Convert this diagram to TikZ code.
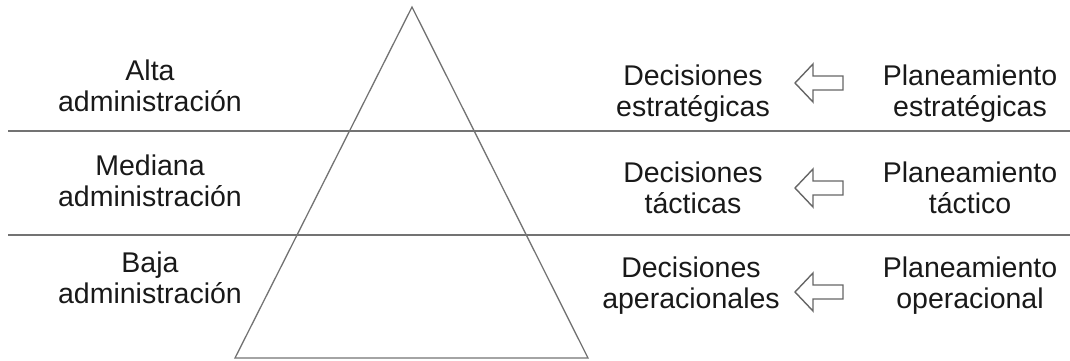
\documentclass[tikz,border=0pt]{standalone}
\usepackage{fontspec}
\setmainfont{Liberation Sans}
\begin{document}
\begin{tikzpicture}[x=1pt,y=-1pt,
  lbl/.style={align=center, anchor=base, inner sep=0pt,
    font=\fontsize{28.5}{31}\selectfont, text=black!90},
  rule/.style={draw=black!55, line width=1.4pt},
  pyramid/.style={draw=black!55, line width=1.3pt, line join=miter},
  arrowline/.style={draw=black!60, line width=1.4pt, line join=miter},
  pics/blockarrow/.style={code={
    \draw[arrowline] (0,0) -- (18,-19) -- (18,-7) -- (48,-7) -- (48,7)
      -- (18,7) -- (18,19) -- cycle;}}
]
\useasboundingbox (0,0) rectangle (1070,360);

% level separators
\coordinate (r1w) at (8,131);   \coordinate (r1e) at (1070,131);
\coordinate (r2w) at (8,235);   \coordinate (r2e) at (1070,235);
\draw[rule] (r1w) -- (r1e);
\draw[rule] (r2w) -- (r2e);

% pyramid
\coordinate (apex) at (412,7);
\coordinate (bl) at (235,358);
\coordinate (br) at (588,358);
\draw[pyramid] (apex) -- (br) -- (bl) -- cycle;

% management levels (base anchor sits on the last line)
\node[lbl] (alta)    at (150,111) {Alta\\administración};
\node[lbl] (mediana) at (150,206) {Mediana\\administración};
\node[lbl] (baja)    at (150,303) {Baja\\administración};

% decisions
\node[lbl] (decE) at (693,116) {Decisiones\\estratégicas};
\node[lbl] (decT) at (693,213) {Decisiones\\tácticas};
\node[lbl] (decO) at (691,308) {Decisiones\\aperacionales};

% planning
\node[lbl] (planE) at (970,116) {Planeamiento\\estratégicas};
\node[lbl] (planT) at (970,213) {Planeamiento\\táctico};
\node[lbl] (planO) at (970,308) {Planeamiento\\operacional};

% block arrows from planning to decisions
\pic at (795,83)  {blockarrow};
\pic at (795,188) {blockarrow};
\pic at (795,292) {blockarrow};
\end{tikzpicture}
\end{document}
